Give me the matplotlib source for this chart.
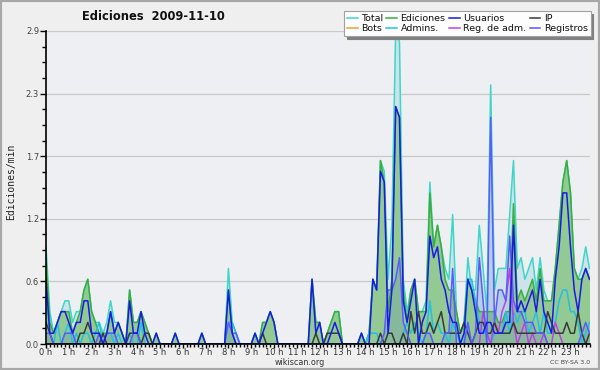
import matplotlib
matplotlib.use('Agg')
import matplotlib.pyplot as plt
import numpy as np
from matplotlib.patches import Rectangle

# ---- data (per 10-minute slot, edits per minute) ----
hour_labels = [f"{h} h" for h in range(24)]
y_tick_values = [0.0, 0.58, 1.16, 1.74, 2.32, 2.9]
y_tick_labels = ["0.0", "0.6", "1.2", "1.7", "2.3", "2.9"]

total = [
    0.9, 0.3, 0.1, 0.2, 0.3, 0.4,   0.4, 0.2, 0.3, 0.3, 0.5, 0.6,
    0.3, 0.2, 0.2, 0.1, 0.2, 0.4,   0.2, 0.2, 0.1, 0.0, 0.5, 0.2,
    0.2, 0.3, 0.2, 0.1, 0.0, 0.1,   0.0, 0.0, 0.0, 0.0, 0.1, 0.0,
    0.0, 0.0, 0.0, 0.0, 0.0, 0.1,   0.0, 0.0, 0.0, 0.0, 0.0, 0.0,
    0.7, 0.2, 0.1, 0.0, 0.0, 0.0,   0.0, 0.1, 0.0, 0.2, 0.2, 0.3,
    0.2, 0.0, 0.0, 0.0, 0.0, 0.0,   0.0, 0.0, 0.0, 0.0, 0.6, 0.2,
    0.2, 0.0, 0.1, 0.2, 0.3, 0.3,   0.0, 0.0, 0.0, 0.0, 0.0, 0.1,
    0.0, 0.1, 0.6, 0.5, 1.7, 1.6,   0.6, 1.1, 2.9, 2.8, 0.6, 0.3,
    0.5, 0.6, 0.3, 0.3, 0.4, 1.5,   0.9, 1.1, 0.9, 0.7, 0.6, 1.2,
    0.3, 0.1, 0.2, 0.8, 0.5, 0.5,   1.1, 0.7, 0.3, 2.4, 0.5, 0.7,
    0.7, 0.7, 1.2, 1.7, 0.7, 0.8,   0.6, 0.7, 0.8, 0.5, 0.8, 0.5,
    0.4, 0.4, 0.7, 1.1, 1.5, 1.7,   1.4, 0.7, 0.6, 0.7, 0.9, 0.7,
]
ediciones = [
    0.8, 0.2, 0.1, 0.2, 0.3, 0.3,   0.3, 0.1, 0.2, 0.3, 0.5, 0.6,
    0.3, 0.2, 0.1, 0.1, 0.1, 0.3,   0.1, 0.2, 0.1, 0.0, 0.5, 0.2,
    0.2, 0.3, 0.2, 0.1, 0.0, 0.1,   0.0, 0.0, 0.0, 0.0, 0.1, 0.0,
    0.0, 0.0, 0.0, 0.0, 0.0, 0.1,   0.0, 0.0, 0.0, 0.0, 0.0, 0.0,
    0.5, 0.1, 0.0, 0.0, 0.0, 0.0,   0.0, 0.1, 0.0, 0.2, 0.2, 0.3,
    0.2, 0.0, 0.0, 0.0, 0.0, 0.0,   0.0, 0.0, 0.0, 0.0, 0.6, 0.2,
    0.2, 0.0, 0.1, 0.2, 0.3, 0.3,   0.0, 0.0, 0.0, 0.0, 0.0, 0.1,
    0.0, 0.1, 0.6, 0.5, 1.7, 1.5,   0.3, 0.6, 2.2, 2.1, 0.5, 0.2,
    0.5, 0.6, 0.3, 0.3, 0.3, 1.4,   0.9, 1.1, 0.9, 0.6, 0.5, 0.5,
    0.3, 0.1, 0.2, 0.6, 0.5, 0.4,   0.3, 0.3, 0.3, 0.3, 0.3, 0.2,
    0.2, 0.3, 0.3, 1.3, 0.4, 0.5,   0.4, 0.5, 0.6, 0.4, 0.7, 0.4,
    0.4, 0.4, 0.7, 1.1, 1.5, 1.7,   1.4, 0.7, 0.6, 0.6, 0.7, 0.6,
]
usuarios = [
    0.6, 0.1, 0.1, 0.2, 0.3, 0.3,   0.2, 0.1, 0.2, 0.2, 0.4, 0.4,
    0.1, 0.1, 0.1, 0.0, 0.1, 0.3,   0.1, 0.2, 0.1, 0.0, 0.4, 0.1,
    0.1, 0.3, 0.1, 0.0, 0.0, 0.1,   0.0, 0.0, 0.0, 0.0, 0.1, 0.0,
    0.0, 0.0, 0.0, 0.0, 0.0, 0.1,   0.0, 0.0, 0.0, 0.0, 0.0, 0.0,
    0.5, 0.1, 0.0, 0.0, 0.0, 0.0,   0.0, 0.1, 0.0, 0.1, 0.2, 0.3,
    0.2, 0.0, 0.0, 0.0, 0.0, 0.0,   0.0, 0.0, 0.0, 0.0, 0.6, 0.1,
    0.2, 0.0, 0.0, 0.1, 0.2, 0.1,   0.0, 0.0, 0.0, 0.0, 0.0, 0.1,
    0.0, 0.0, 0.6, 0.5, 1.6, 1.5,   0.1, 0.5, 2.2, 2.1, 0.4, 0.2,
    0.4, 0.6, 0.0, 0.2, 0.3, 1.0,   0.8, 0.9, 0.6, 0.5, 0.3, 0.2,
    0.2, 0.0, 0.1, 0.6, 0.5, 0.3,   0.1, 0.1, 0.2, 0.2, 0.1, 0.1,
    0.1, 0.2, 0.2, 1.1, 0.3, 0.4,   0.3, 0.4, 0.5, 0.3, 0.6, 0.3,
    0.2, 0.1, 0.6, 0.9, 1.4, 1.4,   0.9, 0.5, 0.3, 0.6, 0.7, 0.6,
]
ip = [
    0.2, 0.1, 0.0, 0.0, 0.0, 0.0,   0.0, 0.0, 0.0, 0.1, 0.1, 0.2,
    0.1, 0.0, 0.0, 0.1, 0.0, 0.0,   0.0, 0.0, 0.0, 0.0, 0.1, 0.1,
    0.1, 0.0, 0.1, 0.1, 0.0, 0.0,   0.0, 0.0, 0.0, 0.0, 0.0, 0.0,
    0.0, 0.0, 0.0, 0.0, 0.0, 0.0,   0.0, 0.0, 0.0, 0.0, 0.0, 0.0,
    0.0, 0.0, 0.0, 0.0, 0.0, 0.0,   0.0, 0.0, 0.0, 0.1, 0.0, 0.0,
    0.0, 0.0, 0.0, 0.0, 0.0, 0.0,   0.0, 0.0, 0.0, 0.0, 0.0, 0.1,
    0.0, 0.0, 0.1, 0.1, 0.1, 0.1,   0.0, 0.0, 0.0, 0.0, 0.0, 0.0,
    0.0, 0.0, 0.0, 0.0, 0.1, 0.0,   0.1, 0.1, 0.0, 0.0, 0.1, 0.0,
    0.3, 0.1, 0.3, 0.1, 0.1, 0.2,   0.1, 0.2, 0.3, 0.1, 0.1, 0.1,
    0.1, 0.1, 0.2, 0.1, 0.0, 0.1,   0.2, 0.2, 0.1, 0.1, 0.2, 0.1,
    0.1, 0.1, 0.1, 0.2, 0.1, 0.1,   0.1, 0.1, 0.1, 0.1, 0.1, 0.1,
    0.3, 0.2, 0.1, 0.1, 0.1, 0.2,   0.1, 0.1, 0.3, 0.1, 0.0, 0.1,
]
bots = [0.0] * 144
admins = [
    0.5, 0.1, 0.0, 0.2, 0.0, 0.1,   0.2, 0.0, 0.1, 0.0, 0.1, 0.1,
    0.0, 0.1, 0.2, 0.0, 0.1, 0.1,   0.0, 0.1, 0.0, 0.0, 0.1, 0.0,
    0.0, 0.2, 0.0, 0.0, 0.0, 0.0,   0.0, 0.0, 0.0, 0.0, 0.0, 0.0,
    0.0, 0.0, 0.0, 0.0, 0.0, 0.0,   0.0, 0.0, 0.0, 0.0, 0.0, 0.0,
    0.2, 0.2, 0.1, 0.0, 0.0, 0.0,   0.0, 0.0, 0.0, 0.0, 0.0, 0.0,
    0.0, 0.0, 0.0, 0.0, 0.0, 0.0,   0.0, 0.0, 0.0, 0.0, 0.0, 0.0,
    0.0, 0.0, 0.0, 0.0, 0.0, 0.0,   0.0, 0.0, 0.0, 0.0, 0.0, 0.0,
    0.0, 0.1, 0.1, 0.1, 0.0, 0.0,   0.0, 0.0, 0.0, 0.0, 0.1, 0.2,
    0.1, 0.2, 0.1, 0.0, 0.1, 0.4,   0.1, 0.2, 0.1, 0.1, 0.0, 0.2,
    0.1, 0.0, 0.0, 0.6, 0.6, 0.4,   0.2, 0.1, 0.1, 0.0, 0.1, 0.1,
    0.1, 0.3, 0.1, 0.3, 0.2, 0.3,   0.3, 0.1, 0.2, 0.3, 0.1, 0.3,
    0.1, 0.1, 0.2, 0.4, 0.5, 0.5,   0.3, 0.3, 0.2, 0.0, 0.1, 0.2,
]
reg_adm = [0.0] * 114 + [
    0.0, 0.3, 0.1, 0.0, 0.2, 0.1,
    0.3, 0.4, 0.7, 0.2, 0.0, 0.1,   0.2, 0.0, 0.1, 0.0, 0.0, 0.1,
    0.0, 0.0, 0.2, 0.1, 0.0, 0.0,   0.0, 0.0, 0.0, 0.0, 0.0, 0.0,
]
registros = [
    0.1, 0.1, 0.0, 0.0, 0.0, 0.1,   0.1, 0.1, 0.0, 0.0, 0.0, 0.0,
    0.0, 0.0, 0.1, 0.0, 0.1, 0.1,   0.1, 0.0, 0.0, 0.0, 0.0, 0.1,
    0.1, 0.0, 0.0, 0.0, 0.0, 0.0,   0.0, 0.0, 0.0, 0.0, 0.0, 0.0,
    0.0, 0.0, 0.0, 0.0, 0.0, 0.0,   0.0, 0.0, 0.0, 0.0, 0.0, 0.0,
    0.2, 0.1, 0.1, 0.0, 0.0, 0.0,   0.0, 0.0, 0.0, 0.0, 0.0, 0.0,
    0.0, 0.0, 0.0, 0.0, 0.0, 0.0,   0.0, 0.0, 0.0, 0.0, 0.0, 0.0,
    0.0, 0.0, 0.0, 0.0, 0.0, 0.0,   0.0, 0.0, 0.0, 0.0, 0.0, 0.0,
    0.0, 0.0, 0.0, 0.0, 0.0, 0.1,   0.5, 0.5, 0.6, 0.8, 0.2, 0.1,
    0.0, 0.0, 0.0, 0.0, 0.1, 0.1,   0.0, 0.0, 0.0, 0.1, 0.1, 0.7,
    0.0, 0.0, 0.0, 0.2, 0.0, 0.1,   0.8, 0.4, 0.0, 2.1, 0.2, 0.5,
    0.5, 0.4, 1.0, 0.4, 0.3, 0.3,   0.2, 0.2, 0.2, 0.1, 0.1, 0.1,
    0.0, 0.0, 0.0, 0.0, 0.0, 0.0,   0.0, 0.0, 0.0, 0.1, 0.2, 0.1,
]

# ---- figure ----
W, H = 600, 370
fig = plt.figure(figsize=(W / 100, H / 100), dpi=100, facecolor='#efefef')
ax = fig.add_axes([46 / W, 1 - 344 / H, 543.5 / W, 313 / H])
ax.set_facecolor('#edeff2')

x = np.arange(len(total))
c_total, c_edic, c_usu, c_ip = '#3ed6c8', '#3aae3a', '#1a1ae6', '#3a3a3a'
c_bots, c_adm, c_regadm, c_reg = '#f0a030', '#22c0e2', '#c040e6', '#5a5aff'

ax.fill_between(x, total, 0, color='#cde2ea', lw=0, zorder=1)
ax.fill_between(x, ediciones, 0, color='#93c993', lw=0, zorder=2)
ax.fill_between(x, registros, 0, color='#4060d0', alpha=0.15, lw=0, zorder=3)

lw = 1.1
ax.plot(x, total, color=c_total, lw=lw, zorder=5, label='Total')
ax.plot(x, bots, color=c_bots, lw=lw, zorder=4, label='Bots')
ax.plot(x, ediciones, color=c_edic, lw=lw, zorder=5, label='Ediciones')
ax.plot(x, admins, color=c_adm, lw=lw, zorder=6, label='Admins.')
ax.plot(x, usuarios, color=c_usu, lw=lw, zorder=8, label='Usuarios')
ax.plot(x, reg_adm, color=c_regadm, lw=lw, zorder=6, label='Reg. de adm.')
ax.plot(x, ip, color=c_ip, lw=lw, zorder=7, label='IP')
ax.plot(x, registros, color=c_reg, lw=lw, zorder=7, label='Registros')

ax.set_xlim(0, len(total) - 1)
ax.set_ylim(0, 2.9)

ax.set_xticks([6 * h for h in range(24)])
ax.set_xticklabels(hour_labels)
ax.set_xticks(np.arange(0, len(total)), minor=True)
ax.set_yticks(y_tick_values)
ax.set_yticklabels(y_tick_labels)
ax.set_yticks(np.arange(0, 2.91, 0.145), minor=True)

for s in ('top', 'right'):
    ax.spines[s].set_visible(False)
for s in ('left', 'bottom'):
    ax.spines[s].set_color('black')
    ax.spines[s].set_linewidth(1.2)
    ax.spines[s].set_zorder(10)

ax.tick_params(axis='x', which='major', length=3, width=1, pad=0,
               labelsize=6, labelcolor='#333333')
ax.tick_params(axis='x', which='minor', length=2.5, width=1)
ax.tick_params(axis='y', which='major', length=4, width=1, pad=1,
               labelsize=6, labelcolor='#444444')
ax.tick_params(axis='y', which='minor', length=3, width=1)

ax.yaxis.grid(True, which='major', color='#c8c8c8', lw=0.9, zorder=0)
ax.set_axisbelow(True)

fig.text(153 / W, 1 - 17 / H, 'Ediciones  2009-11-10', ha='center', va='center',
         fontsize=8.3, fontweight='bold', color='#111111')
fig.text(11 / W, 1 - 182 / H, 'Ediciones/min', rotation=90, ha='center',
         va='center', fontsize=7, family='DejaVu Sans Mono', color='#222222')
fig.text(300 / W, 1 - 362.5 / H, 'wikiscan.org', ha='center', va='center',
         fontsize=5.8, color='#333333')
fig.text(590 / W, 1 - 362.5 / H, 'CC BY-SA 3.0', ha='right', va='center',
         fontsize=4.5, color='#444444')

leg = fig.legend(loc='upper left', bbox_to_anchor=(344 / W, 1 - 11 / H),
                 ncol=4, fontsize=6.8, frameon=True, fancybox=False,
                 shadow={'color': '#808080', 'alpha': 1.0},
                 handlelength=1.15, handletextpad=0.35, columnspacing=0.35,
                 labelspacing=0.12, borderpad=0.3, borderaxespad=0)
leg.get_frame().set_facecolor('#fdfdfd')
leg.get_frame().set_edgecolor('#a0a0a0')
leg.get_frame().set_linewidth(0.8)
for t in leg.get_texts():
    t.set_color('#111111')

fig.add_artist(Rectangle((0, 0), 1, 1, transform=fig.transFigure, fill=False,
                         edgecolor='#a8a8a8', lw=3, zorder=100))

fig.savefig('out.png', dpi=100, facecolor=fig.get_facecolor())
